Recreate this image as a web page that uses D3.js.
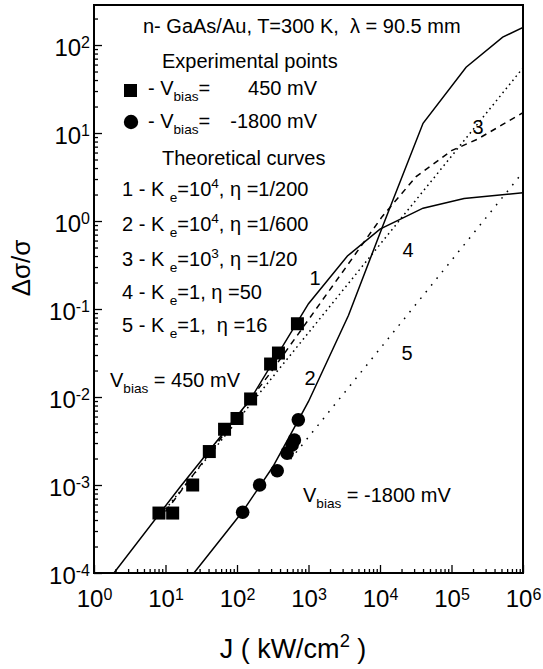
<!DOCTYPE html>
<html><head><meta charset="utf-8">
<script src="https://cdn.jsdelivr.net/npm/d3@7"></script>
<style>
body{margin:0;background:#fff;}
svg text{font-family:"Liberation Sans",Arial,Helvetica,sans-serif;fill:#000;white-space:pre;}
</style></head><body>
<svg id="c" width="543" height="669"></svg>
<script>
// ---- data ----
const squaresJ = [8.1, 12.6, 24, 41, 67, 100, 155, 295, 380, 700];
const squaresV = [4.8e-4, 4.8e-4, 1.0e-3, 2.4e-3, 4.3e-3, 5.7e-3, 9.5e-3, 0.0237, 0.0316, 0.068];
const circlesJ = [120, 207, 365, 502, 590, 635, 720];
const circlesV = [4.9e-4, 1.0e-3, 1.45e-3, 2.3e-3, 2.85e-3, 3.25e-3, 5.5e-3];

const curve1J = [1.9, 16, 155, 1000, 3500, 1e4, 4e4, 1.5e5, 1e6];
const curve1V = [1e-4, 9.5e-4, 9.5e-3, 0.115, 0.40, 0.81, 1.4, 1.8, 2.1];
const curve2J = [25, 120, 316, 725, 1000, 3630, 1.1e4, 4e4, 1.6e5, 5.2e5, 1e6];
const curve2V = [1e-4, 5e-4, 1.6e-3, 5.5e-3, 8.9e-3, 0.085, 0.89, 12.9, 56, 123, 158];
const curve3J = [10, 310, 1.07e4, 3.2e4, 1e5, 2.3e5, 1e6];
const curve3V = [5e-4, 0.02, 1.12, 3.2, 6.3, 8.5, 17];
const curve4J = [10, 1e6];
const curve4V = [5.3e-4, 55];
const curve5J = [560, 1e6];
const curve5V = [1.96e-3, 3.6];

const xMajor = [1, 10, 100, 1e3, 1e4, 1e5, 1e6];
const xExp = ["0","1","2","3","4","5","6"];
const yMajor = [1e-4, 1e-3, 1e-2, 1e-1, 1, 10, 100];
const yExp = ["-4","-3","-2","-1","0","1","2"];

// ---- scales ----
const svg = d3.select("#c");
const x = d3.scaleLog().domain([1, 1e6]).range([94, 523]);
const y = d3.scaleLog().domain([1e-4, 285]).range([573, 5]);

function minors(lo, hi){
  const out=[];
  for(let e=lo;e<hi;e++) for(let m=2;m<=9;m++){ out.push(m*Math.pow(10,e)); }
  return out;
}
const xMinor = minors(0,6);
const yMinor = minors(-4,3).filter(v=>v<=285);

// axes
const gx = svg.append("g").attr("transform","translate(0,573)");
gx.call(d3.axisBottom(x).tickValues(xMinor).tickSize(-4).tickFormat(""));
gx.select(".domain").remove();
const gx2 = svg.append("g").attr("transform","translate(0,573)");
gx2.call(d3.axisBottom(x).tickValues(xMajor).tickSize(-8).tickPadding(17).tickFormat(""));
gx2.select(".domain").remove();
gx2.selectAll(".tick text").attr("font-size",24).attr("dy","0.71em").each(function(d,i){
  const t=d3.select(this); t.text(null);
  t.append("tspan").text("10");
  t.append("tspan").attr("dy","-0.45em").attr("font-size",16).text(xExp[i]);
});

const gy = svg.append("g").attr("transform","translate(94,0)");
gy.call(d3.axisLeft(y).tickValues(yMinor).tickSize(-4).tickFormat(""));
gy.select(".domain").remove();
const gy2 = svg.append("g").attr("transform","translate(94,0)");
gy2.call(d3.axisLeft(y).tickValues(yMajor).tickSize(-8).tickPadding(4).tickFormat(""));
gy2.select(".domain").remove();
gy2.selectAll(".tick text").attr("font-size",24).attr("dy","0.42em").each(function(d,i){
  const t=d3.select(this); t.text(null);
  t.append("tspan").text("10");
  t.append("tspan").attr("dy","-0.45em").attr("font-size",16).text(yExp[i]);
});
svg.selectAll(".tick line").attr("stroke","#000").attr("stroke-width",1.3);

// frame
svg.append("rect").attr("x",x(1)).attr("y",y(285)).attr("width",x(1e6)-x(1)).attr("height",y(1e-4)-y(285))
  .attr("fill","none").attr("stroke","#000").attr("stroke-width",2);

// curves
const line = d3.line().x(d=>x(d[0])).y(d=>y(d[1]));
svg.append("clipPath").attr("id","pc").append("rect")
  .attr("x",x(1)).attr("y",y(285)).attr("width",x(1e6)-x(1)).attr("height",y(1e-4)-y(285));
const cg = svg.append("g").attr("clip-path","url(#pc)");
function curve(J,V,dash){
  cg.append("path").datum(J.map((j,i)=>[j,V[i]])).attr("d",line)
    .attr("fill","none").attr("stroke","#000").attr("stroke-width",1.5)
    .attr("stroke-dasharray",dash||null);
}
curve(curve1J,curve1V);
curve(curve2J,curve2V);
curve(curve3J,curve3V,"6,5");
curve(curve4J,curve4V,"1.6,3.6");
curve(curve5J,curve5V,"1.6,7");

// points
svg.append("g").selectAll("rect").data(squaresJ).join("rect")
  .attr("x",(d,i)=>x(d)-6.5).attr("y",(d,i)=>y(squaresV[i])-6.5).attr("width",13).attr("height",13).attr("fill","#000");
svg.append("g").selectAll("circle").data(circlesJ).join("circle")
  .attr("cx",(d,i)=>x(d)).attr("cy",(d,i)=>y(circlesV[i])).attr("r",6.8).attr("fill","#000");

// rich text helper
function rich(x0,y0,parts,size,anchor){
  const t = svg.append("text").attr("x",x0).attr("y",y0).attr("font-size",size).attr("text-anchor",anchor||"start");
  let off=0;
  parts.forEach(p=>{
    let type='n', s=p;
    if(Array.isArray(p)){type=p[0]; s=p[1];}
    const target = type==='sub'? size*0.32 : type==='sup'? -size*0.42 : 0;
    const ts = t.append("tspan").attr("dy",target-off).text(s);
    if(type!=='n') ts.attr("font-size",size*0.68);
    off=target;
  });
  return t;
}

// legend
rich(143,33,["n- GaAs/Au, T=300 K,  \u03bb = 90.5 mm"],20);
rich(162,68,["Experimental points"],20);
svg.append("rect").attr("x",124).attr("y",84).attr("width",13).attr("height",13).attr("fill","#000");
rich(148,95,["- V",["sub","bias"],"="],20);
rich(317,95,["450 mV"],20,"end");
svg.append("circle").attr("cx",131).attr("cy",122).attr("r",7.2).attr("fill","#000");
rich(148,128,["- V",["sub","bias"],"="],20);
rich(317,128,["-1800 mV"],20,"end");
rich(162,165,["Theoretical curves"],20);
const legY=[196,231,266,299,332];
rich(122,legY[0],["1 - K ",["sub","e"],"=10",["sup","4"],", \u03b7 =1/200"],20);
rich(122,legY[1],["2 - K ",["sub","e"],"=10",["sup","4"],", \u03b7 =1/600"],20);
rich(122,legY[2],["3 - K ",["sub","e"],"=10",["sup","3"],", \u03b7 =1/20"],20);
rich(122,legY[3],["4 - K ",["sub","e"],"=1, \u03b7 =50"],20);
rich(122,legY[4],["5 - K ",["sub","e"],"=1,  \u03b7 =16"],20);

// curve labels
rich(315,285,["1"],20,"middle");
rich(310,385,["2"],20,"middle");
rich(478,134,["3"],20,"middle");
rich(408,257,["4"],20,"middle");
rich(407,360,["5"],20,"middle");
rich(110,387,["V",["sub","bias"]," = 450 mV"],20);
rich(303,502,["V",["sub","bias"]," = -1800 mV"],20);

// axis titles
rich(293,658,["J ( kW/cm",["sup","2"]," )"],27,"middle");
svg.append("text").attr("transform","translate(30,268) rotate(-90)").attr("text-anchor","middle")
  .attr("font-size",26).text("\u0394\u03c3/\u03c3");
</script>
</body></html>
